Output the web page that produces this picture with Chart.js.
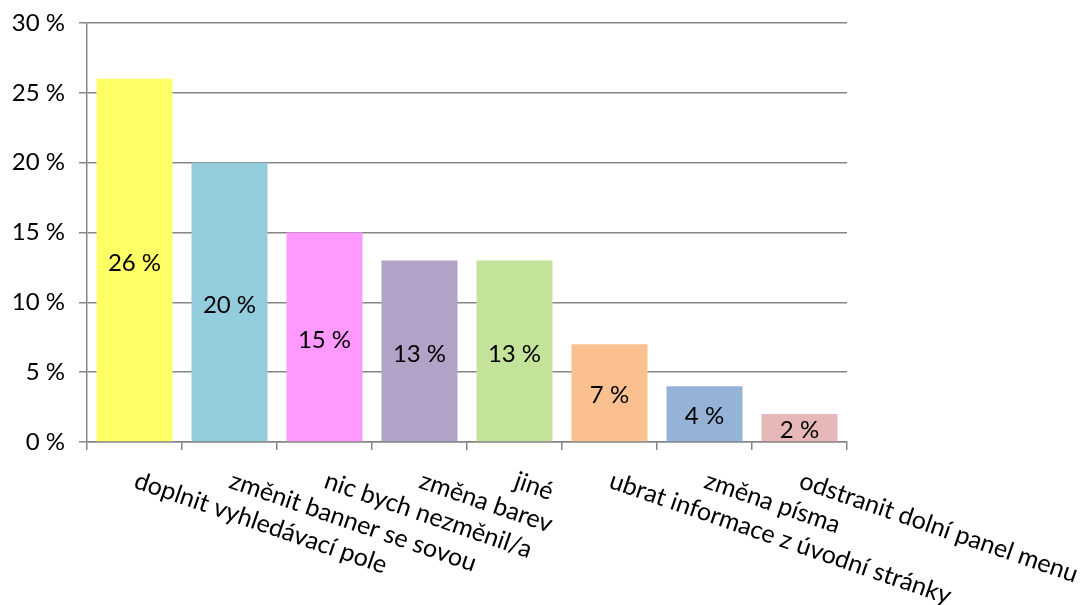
<!DOCTYPE html>
<html>
<head>
<meta charset="utf-8">
<script src="https://cdn.jsdelivr.net/npm/chart.js@4"></script>
<style>
  html, body { margin: 0; padding: 0; background: #fff; }
  #wrap { width: 1081px; height: 605px; }
</style>
</head>
<body>
<div id="wrap"><canvas id="chart"></canvas></div>
<script>
// --- Data ---
const categories = [
    'doplnit vyhledávací pole',
    'změnit banner se sovou',
    'nic bych nezměnil/a',
    'změna barev',
    'jiné',
    'ubrat informace z úvodní stránky',
    'změna písma',
    'odstranit dolní panel menu'
];
const values = [26, 20, 15, 13, 13, 7, 4, 2];
const barColors = ['#FFFF66', '#93CDDD', '#FF99FF', '#B3A2C7', '#C3E39A', '#FAC090', '#95B3D7', '#E6B9B8'];
const yTicks = [0, 5, 10, 15, 20, 25, 30];

const FONT = 'Lato, "Open Sans", sans-serif';
const GRID = '#868686';

// values written in the middle of each bar
const barLabels = {
    id: 'barLabels',
    afterDatasetsDraw(chart) {
        const ctx = chart.ctx;
        const meta = chart.getDatasetMeta(0);
        ctx.save();
        ctx.font = '24px ' + FONT;
        ctx.fillStyle = '#000';
        ctx.textAlign = 'center';
        ctx.textBaseline = 'middle';
        meta.data.forEach((bar, i) => {
            ctx.fillText(values[i] + ' %', bar.x, (bar.y + bar.base) / 2 + 3);
        });
        ctx.restore();
    }
};

// category names, slanted downwards starting at the category centre
const slantLabels = {
    id: 'slantLabels',
    afterDraw(chart) {
        const ctx = chart.ctx;
        const x = chart.scales.x;
        const top = chart.chartArea.bottom + 26;
        ctx.save();
        ctx.font = '25px ' + FONT;
        ctx.fillStyle = '#000';
        ctx.textAlign = 'left';
        ctx.textBaseline = 'top';
        categories.forEach((c, i) => {
            ctx.save();
            ctx.translate(x.getPixelForValue(i) + 5, top);
            ctx.rotate(19 * Math.PI / 180);
            ctx.fillText(c, 0, 0);
            ctx.restore();
        });
        ctx.restore();
    }
};

new Chart(document.getElementById('chart'), {
    type: 'bar',
    data: {
        labels: categories,
        datasets: [{
            data: values,
            backgroundColor: barColors,
            borderWidth: 0,
            barPercentage: 0.8,
            categoryPercentage: 1.0
        }]
    },
    options: {
        responsive: true,
        maintainAspectRatio: false,
        animation: false,
        layout: { padding: { top: 23, right: 234, left: 8 } },
        plugins: {
            legend: { display: false },
            tooltip: { enabled: false }
        },
        scales: {
            x: {
                grid: { display: true, drawOnChartArea: false, offset: true, color: GRID, tickLength: 8, lineWidth: 1.5 },
                border: { display: true, color: GRID, width: 1.5 },
                ticks: { display: false },
                afterFit(scale) { scale.height = 605 - 442; }
            },
            y: {
                min: 0,
                max: 30,
                afterBuildTicks(scale) { scale.ticks = yTicks.map(v => ({ value: v })); },
                grid: { color: GRID, tickLength: 8, lineWidth: 1.5 },
                border: { display: true, color: GRID, width: 1.5 },
                ticks: {
                    color: '#000',
                    font: { family: FONT, size: 24 },
                    padding: 14,
                    callback: v => v + ' %'
                },
                afterFit(scale) {
                    scale.width = 87 - 8;
                    scale.paddingTop = 0;
                    scale.paddingBottom = 0;
                }
            }
        }
    },
    plugins: [barLabels, slantLabels]
});
</script>
</body>
</html>
